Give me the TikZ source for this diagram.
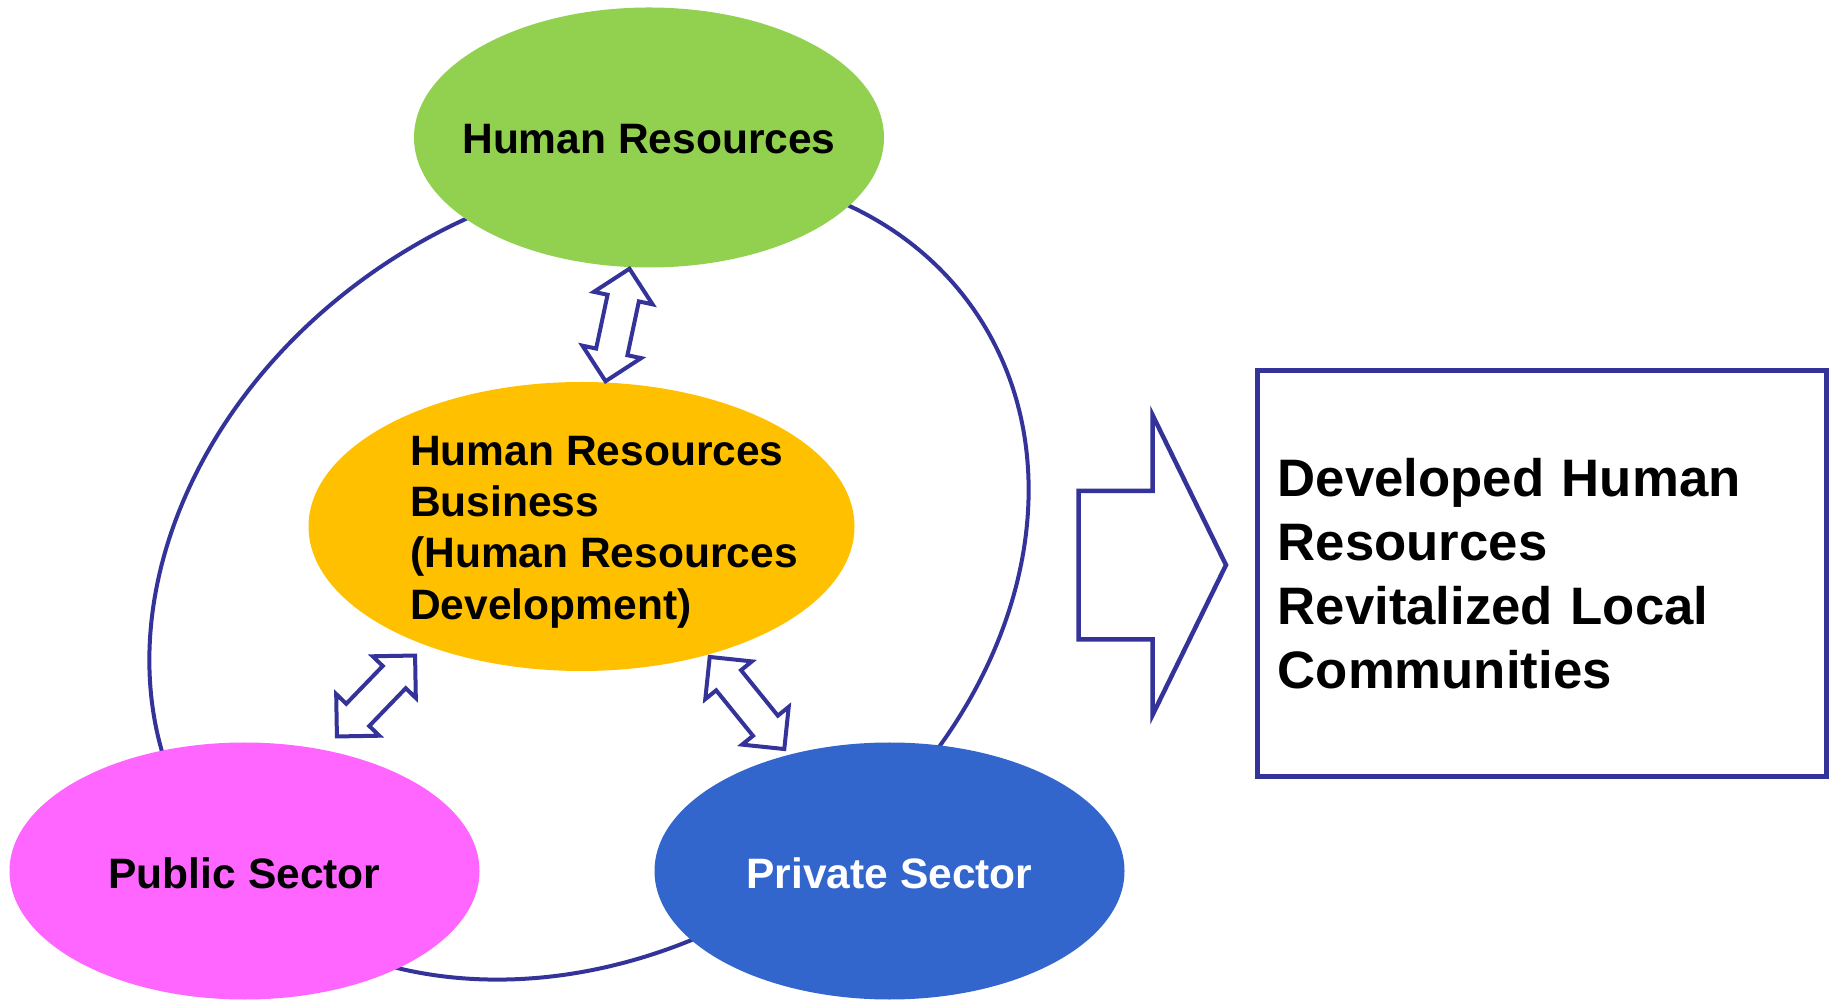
\documentclass[tikz,border=0pt]{standalone}
\usepackage{fontspec}
\setmainfont{Liberation Sans}
\usetikzlibrary{shapes.geometric,shapes.arrows}

\definecolor{lineblue}{HTML}{333399}
\definecolor{hrgreen}{HTML}{92D050}
\definecolor{bizorange}{HTML}{FFC000}
\definecolor{pubpink}{HTML}{FF66FF}
\definecolor{privblue}{HTML}{3366CC}

\tikzset{
  outline/.style={draw=lineblue, line width=0.08cm},
  bubble/.style={ellipse, minimum width=9.4cm, minimum height=5.14cm, inner sep=0pt},
  tag/.style={font=\fontsize{24.2}{29.2}\selectfont\bfseries},
  twoway/.style={double arrow, outline, fill=white, inner xsep=0pt, inner ysep=0.28cm,
    double arrow head extend=0.28cm, double arrow tip angle=90, minimum height=2.3cm},
}

\begin{document}
\begin{tikzpicture}
  \useasboundingbox (0,0) rectangle (36.66,20);
%% the big loop sits behind the four ellipses
  \draw[outline, rotate around={34.2:(11.78,8.50)}] (11.78,8.50) ellipse [x radius=9.35, y radius=7.44];

  \node[bubble, fill=hrgreen, minimum height=5.2cm] (hr) at (12.98,17.25) {};
  \node[bubble, fill=bizorange, minimum width=10.92cm, minimum height=5.78cm] (hrb) at (11.63,9.47) {};
  \node[bubble, fill=pubpink] (pub) at (4.89,2.58) {};
  \node[bubble, fill=privblue] (priv) at (17.79,2.58) {};

%% labels
  \node[tag] (hrtext) at ([yshift=-0.04cm]hr.center) {Human Resources};
  \node[tag, align=left, anchor=west] (hrbtext) at (8.08,9.36) {Human Resources\\Business\\(Human Resources\\Development)};
  \node[tag] (pubtext) at ([yshift=-0.04cm]pub.center) {Public Sector};
  \node[tag, text=white] (privtext) at ([yshift=-0.04cm]priv.center) {Private Sector};

%% two-way arrows between the ellipses
  \node[twoway, rotate=78] (hrlink) at (12.35,13.5) {};
  \node[twoway, rotate=46, minimum height=2.25cm] (publink) at (7.52,6.08) {};
  \node[twoway, rotate=-51, minimum height=2.37cm] (privlink) at (14.94,5.94) {};

%% result arrow and outcome box
  \draw[outline, line width=0.09cm] (21.57,10.18) -- (23.05,10.18) -- (23.05,11.70) -- (24.52,8.70)
    -- (23.05,5.70) -- (23.05,7.21) -- (21.57,7.21) -- cycle;
  \node[outline, line width=0.1cm, rectangle, minimum width=11.39cm, minimum height=8.13cm,
    text width=10.57cm, inner xsep=0.41cm, align=left,
    font=\fontsize{30}{36.4}\selectfont\bfseries] (goal) at (30.84,8.53)
    {Developed Human\\Resources\\Revitalized Local\\Communities};
\end{tikzpicture}
\end{document}
